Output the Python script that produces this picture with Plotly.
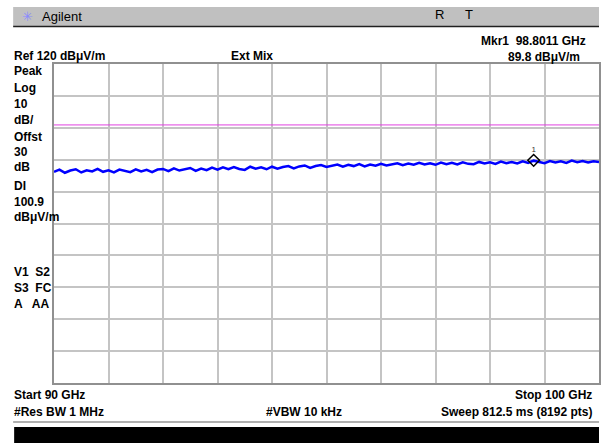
import plotly.graph_objects as go

W, H = 601, 443
L, R, T, B = 54, 0, 64, 60

# sweep: 90 - 100 GHz, read every 0.1 GHz
freq_ghz = [90 + i * 0.1 for i in range(101)]
level_dbuvm = [
    86.2, 86.9, 85.9, 86.6, 87.0, 86.0, 86.7, 86.3, 87.1, 86.2,
    86.7, 86.0, 86.9, 86.4, 86.1, 87.0, 86.3, 86.8, 86.1, 86.9,
    87.1, 86.4, 87.3, 86.6, 87.0, 87.4, 86.5, 87.2, 86.7, 87.5,
    86.9, 87.6, 87.0, 87.7, 87.1, 86.8, 87.8, 87.2, 87.6, 87.0,
    87.8, 87.2, 87.7, 88.0, 87.3, 87.9, 88.2, 87.4, 88.0, 88.3,
    87.7, 88.1, 88.5, 87.8, 88.4, 88.0, 88.6, 87.9, 88.5, 88.1,
    88.7, 88.2, 88.6, 88.9, 88.3, 88.8, 88.4, 89.0, 88.5, 88.9,
    88.4, 89.1, 88.6, 89.0, 88.5, 89.2, 88.7, 88.6, 89.3, 88.8,
    89.2, 88.7, 89.4, 88.9, 89.3, 88.8, 89.5, 89.0, 89.7, 89.2,
    88.9, 89.6, 89.1, 89.5, 89.0, 89.7, 89.2, 89.6, 89.1, 89.5,
    89.3,
]
display_line = 100.9
marker_freq = 98.8011
marker_level = 89.8

ref_level = 120
db_per_div = 10

left_labels = [("Peak", 71), ("Log", 88), ("10", 104), ("dB/", 120),
               ("Offst", 137), ("30", 152), ("dB", 167), ("DI", 186),
               ("100.9", 202), ("dBμV/m", 217),
               ("V1  S2", 272), ("S3  FC", 288), ("A   AA", 304)]

FONT = "Liberation Sans, Arial, sans-serif"
pw, ph = W - L - R, H - T - B


def px(x):
    return (x - L) / pw


def py(y):
    return (H - B - y) / ph


fig = go.Figure()
fig.add_trace(go.Scatter(x=freq_ghz, y=level_dbuvm, mode="lines",
                         line=dict(color="#0000ff", width=2.5), hoverinfo="skip"))
fig.add_trace(go.Scatter(x=[freq_ghz[0], freq_ghz[-1]], y=[display_line, display_line],
                         mode="lines", line=dict(color="#e040e0", width=1)))
fig.add_trace(go.Scatter(x=[marker_freq], y=[marker_level], mode="markers+text",
                         marker=dict(symbol="diamond-open", size=9, color="black",
                                     line=dict(width=1.5, color="black")),
                         text=["1"], textposition="top center",
                         textfont=dict(size=8, color="#333", family=FONT)))

shapes = [
    dict(type="rect", xref="paper", yref="paper", x0=px(13), x1=px(601), y0=py(26), y1=py(7),
         fillcolor="#c0c0c0", line=dict(width=0), layer="below"),
    dict(type="line", xref="paper", yref="paper", x0=px(13), x1=px(601), y0=py(26.5), y1=py(26.5),
         line=dict(color="#202020", width=1.5)),
    dict(type="line", xref="paper", yref="paper", x0=px(13), x1=px(601), y0=py(422), y1=py(422),
         line=dict(color="#b0b0b0", width=2)),
    dict(type="rect", xref="paper", yref="paper", x0=px(14), x1=px(601), y0=py(443), y1=py(427),
         fillcolor="black", line=dict(width=0)),
]

ann = []


def text(s, x, y, anchor="left", size=12, bold=True, color="black"):
    ann.append(dict(text=f"<b>{s}</b>" if bold else s, x=px(x), y=py(y), xref="paper",
                    yref="paper", xanchor=anchor, yanchor="middle", showarrow=False,
                    font=dict(size=size, color=color, family=FONT)))


text("✳", 20, 16, size=13, bold=False, color="#8a8aff")
text("Agilent", 40, 16, size=13, bold=False)
text("R", 434, 15, size=13, bold=False)
text("T", 464, 15, size=13, bold=False)
text("Mkr1  98.8011 GHz", 590, 41, anchor="right")
text("Ref 120 dBμV/m", 12, 56)
text("Ext Mix", 253, 56, anchor="center")
text("89.8 dBμV/m", 584, 57, anchor="right")
for s, y in left_labels:
    text(s, 12, y)
text("Start 90 GHz", 12, 395)
text("Stop 100 GHz", 596, 395, anchor="right")
text("#Res BW 1 MHz", 12, 412)
text("#VBW 10 kHz", 305, 412, anchor="center")
text("Sweep 812.5 ms (8192 pts)", 596, 412, anchor="right")

fig.update_layout(
    width=W, height=H, margin=dict(l=L, r=R, t=T, b=B),
    paper_bgcolor="white", plot_bgcolor="white", showlegend=False,
    shapes=shapes, annotations=ann,
    xaxis=dict(range=[90, 100], dtick=1, tick0=90, showgrid=True, gridcolor="#c4c4c4",
               gridwidth=2, showticklabels=False, ticks="", zeroline=False,
               showline=True, linecolor="#909090", linewidth=2, mirror=True),
    yaxis=dict(range=[ref_level - 10 * db_per_div, ref_level], dtick=db_per_div,
               showgrid=True, gridcolor="#c4c4c4", gridwidth=2, showticklabels=False,
               ticks="", zeroline=False, showline=True, linecolor="#909090",
               linewidth=2, mirror=True),
)

# page has a default body margin; drop it so the figure sits at the window corner
fig.write_html("out.html", config={"displayModeBar": False},
               post_script="document.body.style.margin='0';")
